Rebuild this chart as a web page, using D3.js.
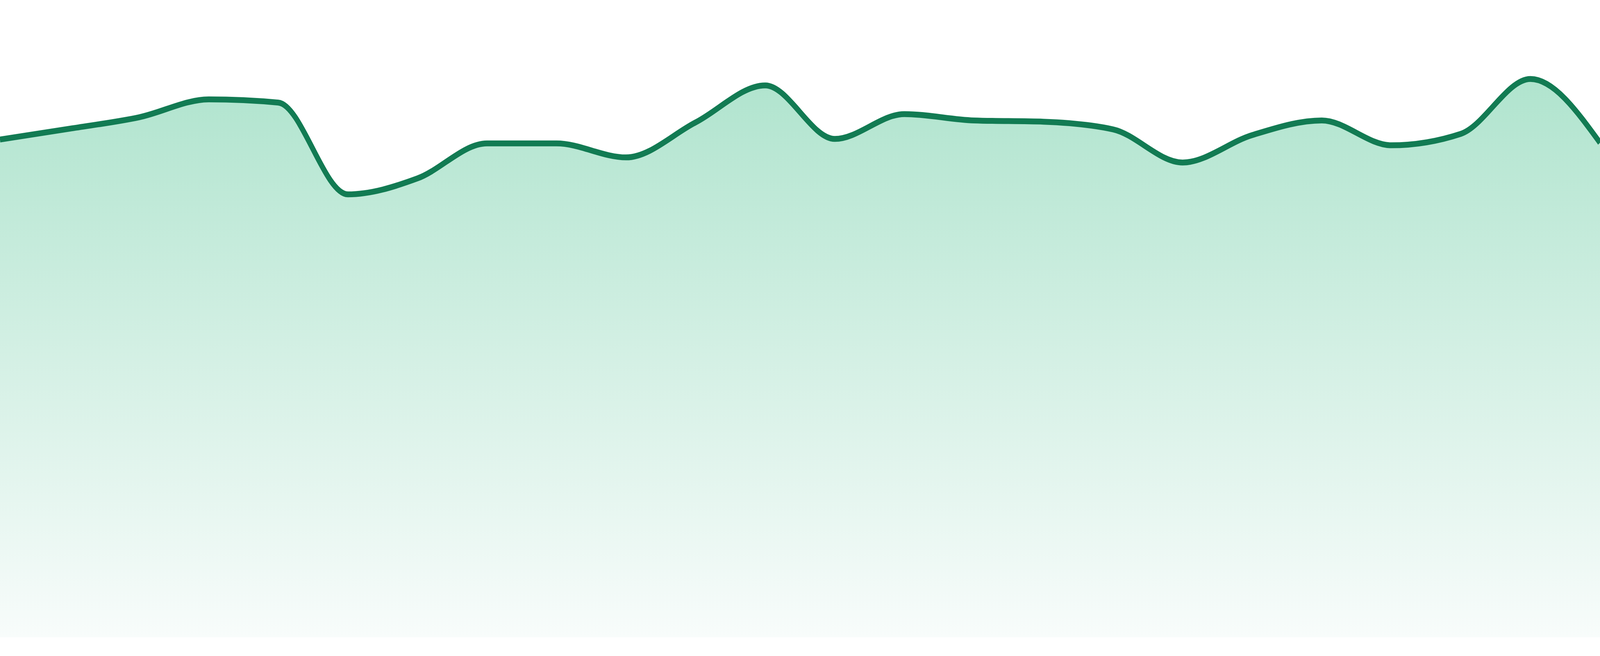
<!DOCTYPE html>
<html>
<head>
<meta charset="utf-8">
<script src="https://cdn.jsdelivr.net/npm/d3@7"></script>
<style>
  html, body { margin: 0; padding: 0; background: #ffffff; overflow: hidden; }
  svg { display: block; }
</style>
</head>
<body>
<div id="chart"></div>
<script>
// one point per week, no axes are drawn
var weeks = ['W01', 'W02', 'W03', 'W04', 'W05', 'W06', 'W07', 'W08',
  'W09', 'W10', 'W11', 'W12', 'W13', 'W14', 'W15', 'W16',
  'W17', 'W18', 'W19', 'W20', 'W21', 'W22', 'W23', 'W24'];

var values = [78.1, 79.8, 81.6, 84.4, 83.9, 69.5, 72.0, 77.5,
  77.5, 75.3, 80.8, 86.6, 78.2, 82.1, 81.1, 80.9,
  79.7, 74.5, 78.8, 81.1, 77.2, 79.0, 87.6, 77.6];

var y_domain = [0, 100];

var width = 4800;
var height = 1680;
var plot_bottom = 1632;

// drawing space is fixed, the svg itself fills the window
var svg = d3.select('#chart')
  .append('svg')
  .attr('width', '100vw')
  .attr('height', '100vh')
  .attr('viewBox', '0 0 ' + width + ' ' + height)
  .attr('preserveAspectRatio', 'none');

var x_scale = d3.scalePoint()
  .domain(weeks)
  .range([0, width]);

var y_scale = d3.scaleLinear()
  .domain(y_domain)
  .range([plot_bottom, 0]);

var data = weeks.map(function(d, i) {
  return {week: d, value: values[i]};
});

// fill fades from mint under the line to almost white at the bottom
var grad = svg.append('defs')
  .append('linearGradient')
  .attr('id', 'area_fill')
  .attr('x1', 0).attr('y1', 0)
  .attr('x2', 0).attr('y2', 1);

grad.append('stop')
  .attr('offset', '0%')
  .attr('stop-color', '#b0e4ce');

grad.append('stop')
  .attr('offset', '100%')
  .attr('stop-color', '#f8fcfb');

var area = d3.area()
  .x(function(d) { return x_scale(d.week); })
  .y0(plot_bottom)
  .y1(function(d) { return y_scale(d.value); })
  .curve(d3.curveMonotoneX);

var line = d3.line()
  .x(function(d) { return x_scale(d.week); })
  .y(function(d) { return y_scale(d.value); })
  .curve(d3.curveMonotoneX);

svg.append('path')
  .datum(data)
  .attr('class', 'area')
  .attr('fill', 'url(#area_fill)')
  .attr('d', area);

svg.append('path')
  .datum(data)
  .attr('class', 'line')
  .attr('fill', 'none')
  .attr('stroke', '#127b53')
  .attr('stroke-width', 15)
  .attr('stroke-linejoin', 'round')
  .attr('d', line);
</script>
</body>
</html>
